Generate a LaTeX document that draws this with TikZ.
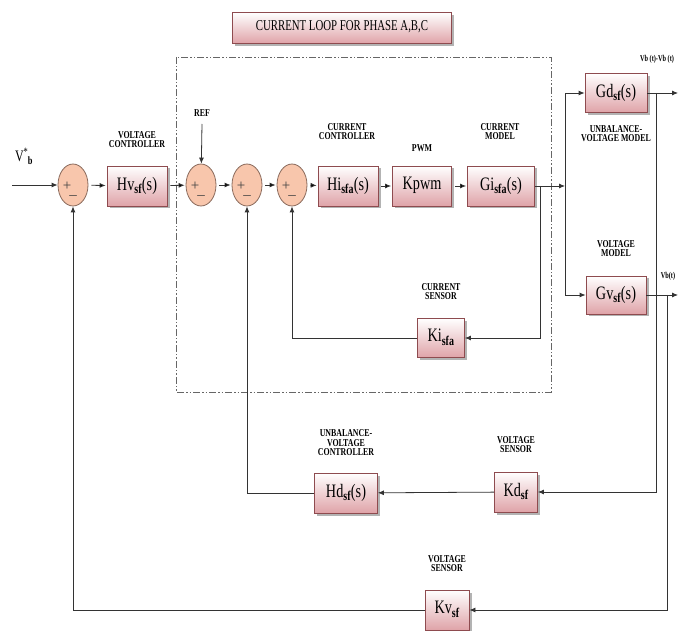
\documentclass[tikz,border=0pt]{standalone}
\usepackage{fontspec}
\setmainfont{Liberation Serif}
\usepackage{graphicx}
\usetikzlibrary{arrows.meta, shapes.geometric, shadows}
\definecolor{boxline}{HTML}{8E4B4F}
\definecolor{boxpink}{HTML}{DFA3A8}
\definecolor{sumfill}{HTML}{F8C6AC}
\definecolor{sumline}{HTML}{8A6A5C}
\definecolor{wirec}{HTML}{333333}
\newcommand{\narrow}[2][0.75]{\scalebox{#1}[1]{\renewcommand{\arraystretch}{0.85}\begin{tabular}{@{}c@{}}#2\end{tabular}}}
\tikzset{
  block/.style={draw=boxline, line width=0.8pt, top color=white, bottom color=boxpink,
    minimum height=40pt, inner sep=0pt, font=\fontsize{19}{20}\selectfont,
    drop shadow={shadow xshift=2.5pt, shadow yshift=-2.5pt, fill=black!50, opacity=0.6}},
  sum/.style={ellipse, draw=sumline, line width=0.8pt, fill=sumfill,
    minimum width=30pt, minimum height=42pt, inner sep=0pt},
  tag/.style={font=\bfseries\fontsize{10.5}{11.5}\selectfont, inner sep=0pt},
  sig/.style={font=\fontsize{15}{15}\selectfont, inner sep=0pt, text=black!75},
  link/.style={draw=wirec, line width=0.8pt}
}
\begin{document}
\begin{tikzpicture}[x=1pt, y=-1pt, >={Latex[length=6pt,width=5pt]}]
        \useasboundingbox (0,0) rectangle (681,631);
        \node[block, minimum width=219pt, minimum height=31pt, font=\fontsize{15}{16}\selectfont](Title) at (342,28){\narrow[0.72]{CURRENT LOOP FOR PHASE A,B,C}};
        \draw[black!60, line width=0.8pt, dash pattern=on 7pt off 2pt on 1.5pt off 2pt on 1.5pt off 2pt] (176,57) rectangle (551,392);

        \node[inner sep=0pt, font=\fontsize{16}{17}\selectfont](VinTxt) at (24,157){\narrow{V\textsuperscript{*}\kern-0.5pt\textsubscript{\bfseries b}}};
        \coordinate (Vin) at (12,185);
        \node[sum](S1) at (73,185){};
        \node[block, minimum width=60pt](Hv) at (137,186){\narrow{Hv\textsubscript{\bfseries sf}(s)}};
        \node[sum](S2) at (201,185){};
        \node[sum](S3) at (247,185){};
        \node[sum](S4) at (292,185){};
        \node[block, minimum width=60pt](Hi) at (348,186){\narrow{Hi\textsubscript{\bfseries sfa}(s)}};
        \node[block, minimum width=59pt](Kpwm) at (422,186){\narrow{Kpwm}};
        \node[block, minimum width=67pt](Gi) at (501,186){\narrow{Gi\textsubscript{\bfseries sfa}(s)}};
        \coordinate (Tap) at (540,186);
        \coordinate (Split) at (565,186);
        \node[block, minimum width=62pt, minimum height=39pt](Gd) at (616,93){\narrow{Gd\textsubscript{\bfseries sf}(s)}};
        \node[block, minimum width=60pt, minimum height=38pt](Gv) at (616,295){\narrow{Gv\textsubscript{\bfseries sf}(s)}};
        \coordinate (GdOut) at (678,93);
        \coordinate (GvOut) at (678,295);
        \coordinate (TapD) at (656,93);
        \coordinate (TapV) at (667,295);
        \node[block, minimum width=47pt, minimum height=39pt](Ki) at (441,338){\narrow{Ki\textsubscript{\bfseries sfa}}};
        \node[block, minimum width=43pt](Kd) at (516,492){\narrow{Kd\textsubscript{\bfseries sf}}};
        \node[block, minimum width=63pt](Hd) at (346,493){\narrow{Hd\textsubscript{\bfseries sf}(s)}};
        \node[block, minimum width=44pt](Kv) at (447,610){\narrow{Kv\textsubscript{\bfseries sf}}};
        \coordinate (RefIn) at (202,124);

        \foreach \s in {S1,S2,S3,S4}{
            \node[sig] at ([xshift=-6pt,yshift=-1pt]\s.center){+};
            \node[sig] at ([yshift=-13pt]\s.center){--};
        }

        \node[tag](VcTxt) at (137,141){\narrow{VOLTAGE\\CONTROLLER}};
        \node[tag](RefTxt) at (202,115){\narrow{REF}};
        \node[tag](CcTxt) at (347,133){\narrow{CURRENT\\CONTROLLER}};
        \node[tag](PwmTxt) at (422,150){\narrow{PWM}};
        \node[tag](CmTxt) at (500,133){\narrow{CURRENT\\MODEL}};
        \node[tag](UvmTxt) at (616,135){\narrow{UNBALANCE-\\VOLTAGE MODEL}};
        \node[tag](VmTxt) at (616,250){\narrow{VOLTAGE\\MODEL}};
        \node[tag, font=\bfseries\fontsize{9}{10}\selectfont](VdTxt) at (657,60){\narrow[0.7]{Vb (t)-Vb (t)}};
        \node[tag, font=\bfseries\fontsize{9}{10}\selectfont](VbTxt) at (668,277){\narrow[0.7]{Vb(t)}};
        \node[tag](CsTxt) at (441,293){\narrow{CURRENT\\SENSOR}};
        \node[tag](UvcTxt) at (346,444){\narrow{UNBALANCE-\\VOLTAGE\\CONTROLLER}};
        \node[tag](VsdTxt) at (516,446){\narrow{VOLTAGE\\SENSOR}};
        \node[tag](VsvTxt) at (447,565){\narrow{VOLTAGE\\SENSOR}};

        \draw[link, ->] (Vin) -- (S1);
        \path[link, ->, shorten <=3pt, shorten >=1pt] (S1) edge (Hv) (Hv) edge (S2) (S2) edge (S3)
            (S3) edge (S4) (S4) edge (Hi) (Hi) edge (Kpwm) (Kpwm) edge (Gi);
        \draw[link, ->] (Gi) -- (Split);
        \draw[link, ->] (Split) |- (Gd);
        \draw[link, ->] (Split) |- (Gv);
        \draw[link, ->] (Gd) -- (GdOut);
        \draw[link, ->] (Gv) -- (GvOut);
        \draw[link, ->] (Tap) |- (Ki);
        \draw[link, ->] (Ki) -| (S4);
        \draw[link, ->] (TapD) |- (Kd);
        \draw[link, ->] (Kd) -- (Hd);
        \draw[link, ->] (Hd) -| (S3);
        \draw[link, ->] (TapV) |- (Kv);
        \draw[link, ->] (Kv) -| (S1);
        \draw[link, ->] (RefIn) -- (S2);
\end{tikzpicture}
\end{document}
